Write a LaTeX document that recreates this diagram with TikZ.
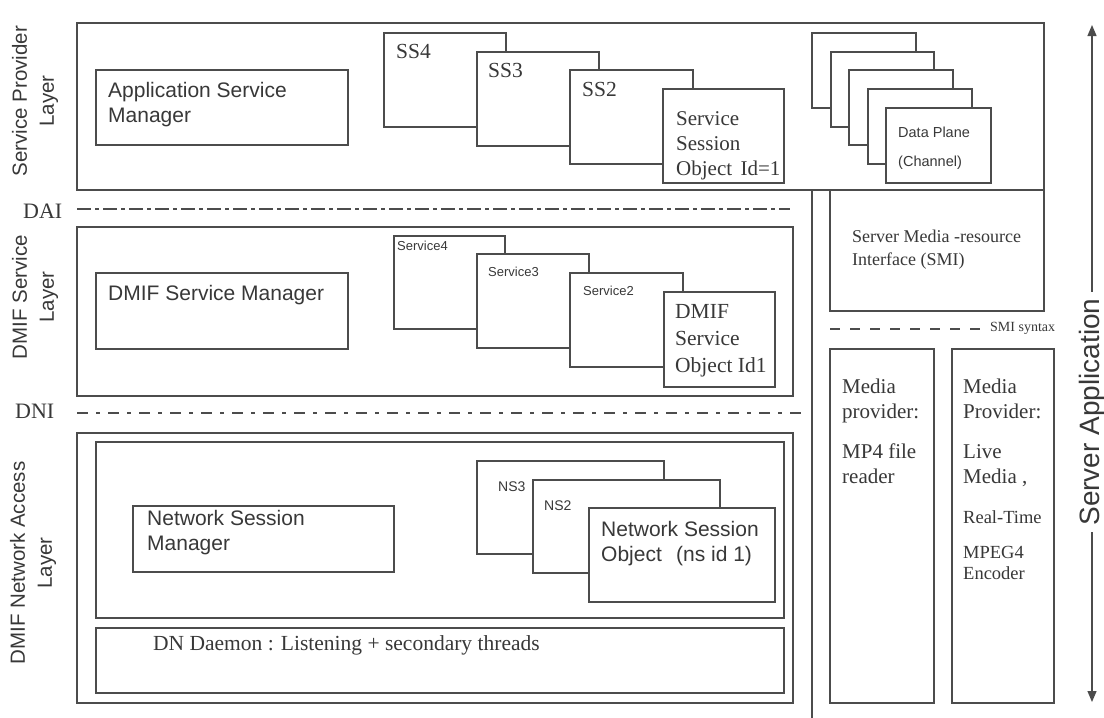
\documentclass[tikz,border=0pt]{standalone}
\usepackage{fontspec}
\setmainfont{Liberation Serif}
\setsansfont{Liberation Sans}
\usetikzlibrary{arrows.meta}
\definecolor{lc}{gray}{0.3}
\definecolor{tc}{gray}{0.22}
\newcommand\lns[1]{\begin{tabular}[t]{@{}l@{}}#1\end{tabular}}
\newcommand\bx[5]{\node[box,minimum width={(#4-#2)*1pt},minimum height={(#5-#3)*1pt}] (#1) at ({(#2+#4)/2},{(#3+#5)/2}) {};}
\begin{document}
\begin{tikzpicture}[x=1pt,y=-1pt,
  box/.style={draw=lc, fill=white, line width=1.3pt, inner sep=0pt, outer sep=0pt},
  txt/.style={anchor=base west, inner sep=0pt, text=tc},
  sfbig/.style={font=\sffamily\fontsize{21}{25}\selectfont},
  sfsmall/.style={font=\sffamily\fontsize{13}{15}\selectfont},
  sfns/.style={font=\sffamily\fontsize{14}{16}\selectfont},
  sfdp/.style={font=\sffamily\fontsize{14.5}{29}\selectfont},
  rmbig/.style={font=\rmfamily\fontsize{21.5}{25}\selectfont},
  rmmid/.style={font=\rmfamily\fontsize{18}{23}\selectfont},
  rmsmall/.style={font=\rmfamily\fontsize{14}{16}\selectfont},
  layerlab/.style={rotate=90, align=center, inner sep=0pt, text=tc, font=\sffamily\fontsize{20.5}{27}\selectfont},
  ifline/.style={draw=lc},
  dai/.style={ifline, line width=2.8pt, dash pattern=on 14pt off 4pt on 4pt off 4pt},
  dni/.style={ifline, line width=1.5pt, dash pattern=on 11pt off 8pt on 4pt off 8pt},
  smil/.style={ifline, line width=1.5pt, dash pattern=on 10pt off 10pt},
]
\fill[white] (0,0) rectangle (1104,718);
\useasboundingbox (0,0) rectangle (1104,718);

% ---- Service Provider Layer
\bx{spl}{77}{23}{1044}{190}
\bx{asm}{96}{70}{348}{145}
\node[txt,sfbig] (asmt) at (108,97) {\lns{Application Service\\Manager}};
\bx{ss4}{384}{33}{506}{127}
\node[txt,rmbig] (ss4t) at (396,58) {SS4};
\bx{ss3}{477}{52}{599}{146}
\node[txt,rmbig] (ss3t) at (488,77) {SS3};
\bx{ss2}{570}{70}{693}{164}
\node[txt,rmbig] (ss2t) at (582,96) {SS2};
\bx{sso}{663}{89}{784}{183}
\node[txt,font=\rmfamily\fontsize{21}{25}\selectfont] (ssot) at (676,125) {\lns{Service\\Session\\Object\hspace{0.15em} Id=1}};
\bx{dp1}{812}{33}{916}{108}
\bx{dp2}{831}{52}{934}{127}
\bx{dp3}{849}{70}{953}{145}
\bx{dp4}{868}{89}{972}{164}
\bx{dp5}{886}{108}{991}{183}
\node[txt,sfdp] (dpt) at (898,137) {\lns{Data Plane\\(Channel)}};

% ---- right column
\coordinate (vtop) at (812,190);
\coordinate (vbot) at (812,718);
\draw[lc, line width=1.3pt] (vtop) -- (vbot);
\bx{smi}{830}{190}{1044}{311}
\node[txt,rmmid] (smit) at (852,242) {\lns{Server Media -resource\\Interface (SMI)}};
\coordinate (smis) at (830,329);
\coordinate (smie) at (982,329);
\draw[smil] (smis) -- (smie);
\node[txt,rmsmall,anchor=west] (smisyn) at (990,328) {SMI syntax};
\bx{mp1}{830}{349}{934}{703}
\bx{mp2}{952}{349}{1054}{703}
\node[txt,font=\rmfamily\fontsize{21}{25}\selectfont] (mp1a) at (842,393) {\lns{Media\\provider:}};
\node[txt,font=\rmfamily\fontsize{21}{25}\selectfont] (mp1b) at (842,458) {\lns{MP4 file\\reader}};
\node[txt,font=\rmfamily\fontsize{21}{25}\selectfont] (mp2a) at (963,393) {\lns{Media\\Provider:}};
\node[txt,font=\rmfamily\fontsize{21}{25}\selectfont] (mp2b) at (963,458) {\lns{Live\\Media ,}};
\node[txt,font=\rmfamily\fontsize{18.5}{21}\selectfont] (mp2c) at (963,523) {Real-Time};
\node[txt,font=\rmfamily\fontsize{18.5}{21}\selectfont] (mp2d) at (963,558) {\lns{MPEG4\\Encoder}};

% ---- DAI
\node[txt,font=\rmfamily\fontsize{22}{25}\selectfont] (dait) at (23,218) {DAI};
\coordinate (dais) at (77,209);
\coordinate (daie) at (790,209);
\draw[dai] (dais) -- (daie);

% ---- DMIF Service Layer
\bx{dsl}{77}{227}{793}{396}
\bx{dsm}{96}{273}{348}{349}
\node[txt,sfbig] (dsmt) at (108,300) {DMIF Service Manager};
\bx{sv4}{394}{236}{505}{329}
\node[txt,sfsmall] (sv4t) at (397,250) {Service4};
\bx{sv3}{477}{254}{589}{348}
\node[txt,sfsmall] (sv3t) at (488,276) {Service3};
\bx{sv2}{570}{273}{683}{367}
\node[txt,sfsmall] (sv2t) at (583,295) {Service2};
\bx{dso}{664}{292}{775}{387}
\node[txt,font=\rmfamily\fontsize{21.5}{27}\selectfont] (dsot) at (675,318) {\lns{DMIF\\Service\\Object Id1}};

% ---- DNI
\node[txt,font=\rmfamily\fontsize{22}{25}\selectfont] (dnit) at (15,418) {DNI};
\coordinate (dnis) at (77,413);
\coordinate (dnie) at (803,413);
\draw[dni] (dnis) -- (dnie);

% ---- DMIF Network Access Layer
\bx{nal}{77}{433}{793}{703}
\bx{nin}{96}{442}{784}{618}
\bx{dnd}{96}{628}{784}{693}
\node[txt,font=\rmfamily\fontsize{21.5}{25}\selectfont] (dndt) at (153,650) {DN Daemon : Listening + secondary threads};
\bx{nsm}{133}{506}{394}{572}
\node[txt,sfbig] (nsmt) at (147,525) {\lns{Network Session\\Manager}};
\bx{ns3}{477}{461}{664}{554}
\node[txt,sfns] (ns3t) at (498,491) {NS3};
\bx{ns2}{533}{480}{720}{573}
\node[txt,sfns] (ns2t) at (544,510) {NS2};
\bx{nso}{589}{508}{775}{602}
\node[txt,sfbig] (nsot) at (601,536) {\lns{Network Session\\Object\hspace{0.4em} (ns id 1)}};

% ---- layer labels
\node[layerlab] (lab1) at (35,101) {Service Provider\\Layer};
\node[layerlab] (lab2) at (35,297) {DMIF Service\\Layer};
\node[layerlab] (lab3) at (33,563) {DMIF Network Access\\Layer};

% ---- Server Application arrow
\coordinate (atop) at (1092,25);
\coordinate (abot) at (1092,702);
\draw[lc, line width=1.3pt, {Triangle[length=11pt,width=9pt]}-{Triangle[length=11pt,width=9pt]}] (atop) -- (abot);
\node[rotate=90, fill=white, inner xsep=6pt, inner ysep=2pt, text=tc, font=\sffamily\fontsize{28}{32}\selectfont] (sapp) at (1092,412) {Server Application};
\end{tikzpicture}
\end{document}
